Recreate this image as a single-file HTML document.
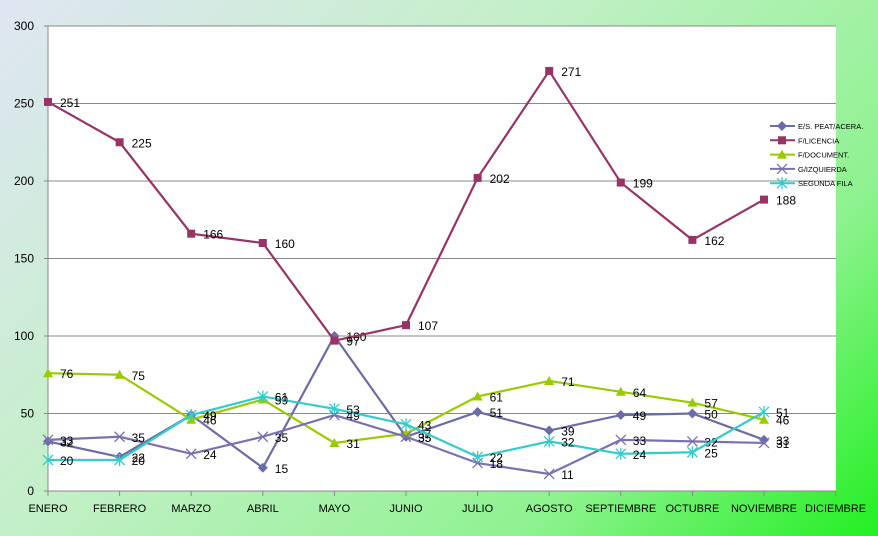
<!DOCTYPE html><html><head><meta charset="utf-8"><style>
html,body{margin:0;padding:0}
body{width:878px;height:536px;overflow:hidden;background:linear-gradient(135deg,#dfe6f3 0%,#c2f0c6 40%,#8ef28f 75%,#22f022 100%);font-family:"Liberation Sans",sans-serif}
</style></head><body>
<svg id="s" width="878" height="536" xmlns="http://www.w3.org/2000/svg" style="position:absolute;left:0;top:0;font-family:'Liberation Sans',sans-serif"></svg>
<script>
var s=document.getElementById('s'),h='';
function X(i){return 48+i*71.6}function Y(v){return 491-v*1.55}
h+='<rect x="48" y="26" width="788" height="465" fill="#fff"/>';
for(var v=0;v<=300;v+=50){h+='<line x1="44" x2="836" y1="'+Y(v)+'" y2="'+Y(v)+'" stroke="#888" stroke-width="1"/>';h+='<text x="34" y="'+(Y(v)+4)+'" font-size="12" text-anchor="end">'+v+'</text>';}
h+='<line x1="48" x2="48" y1="26" y2="495" stroke="#888"/>';
var m=['ENERO','FEBRERO','MARZO','ABRIL','MAYO','JUNIO','JULIO','AGOSTO','SEPTIEMBRE','OCTUBRE','NOVIEMBRE','DICIEMBRE'];
for(var i=0;i<12;i++){h+='<line x1="'+X(i)+'" x2="'+X(i)+'" y1="491" y2="496" stroke="#888"/>';h+='<text x="'+X(i)+'" y="512" font-size="11" text-anchor="middle">'+m[i]+'</text>';}
var S=[
{n:'E/S. PEAT/ACERA.',c:'#6b6ba8',k:'d',d:[32,22,49,15,100,35,51,39,49,50,33]},
{n:'F/LICENCIA',c:'#993366',k:'s',d:[251,225,166,160,97,107,202,271,199,162,188]},
{n:'F/DOCUMENT.',c:'#99cc00',k:'t',d:[76,75,46,59,31,37,61,71,64,57,46]},
{n:'G/IZQUIERDA',c:'#7a70b0',k:'x',d:[33,35,24,35,49,35,18,11,33,32,31]},
{n:'SEGUNDA FILA',c:'#33cccc',k:'a',d:[20,20,49,61,53,43,22,32,24,25,51]}];
function mk(k,x,y,c){if(k=='d')return '<path d="M'+x+' '+(y-5)+'L'+(x+5)+' '+y+'L'+x+' '+(y+5)+'L'+(x-5)+' '+y+'Z" fill="'+c+'"/>';
if(k=='s')return '<rect x="'+(x-4)+'" y="'+(y-4)+'" width="8" height="8" fill="'+c+'"/>';
if(k=='t')return '<path d="M'+x+' '+(y-5)+'L'+(x+5)+' '+(y+4)+'L'+(x-5)+' '+(y+4)+'Z" fill="'+c+'"/>';
var r='<path d="M'+(x-5)+' '+(y-5)+'L'+(x+5)+' '+(y+5)+'M'+(x+5)+' '+(y-5)+'L'+(x-5)+' '+(y+5)+(k=='a'?'M'+x+' '+(y-6)+'L'+x+' '+(y+6):'')+'" stroke="'+c+'" stroke-width="1.3" fill="none"/>';return r;}
S.forEach(function(q,j){var p=q.d.map(function(v,i){return X(i)+','+Y(v)}).join(' ');
h+='<polyline points="'+p+'" fill="none" stroke="'+q.c+'" stroke-width="2.2"/>';
q.d.forEach(function(v,i){h+=mk(q.k,X(i),Y(v),q.c);h+='<text x="'+(X(i)+12)+'" y="'+(Y(v)+5)+'" font-size="12">'+v+'</text>';});
var ly=126+j*14.3;h+='<line x1="770" x2="795" y1="'+ly+'" y2="'+ly+'" stroke="'+q.c+'" stroke-width="2"/>'+mk(q.k,782,ly,q.c).replace(/-5|\+5/g,function(a){return a=='-5'?'-2.5':'+2.5'});
h+='<text x="798" y="'+(ly+3)+'" font-size="7.5">'+q.n+'</text>';});
s.innerHTML=h;
</script></body></html>
